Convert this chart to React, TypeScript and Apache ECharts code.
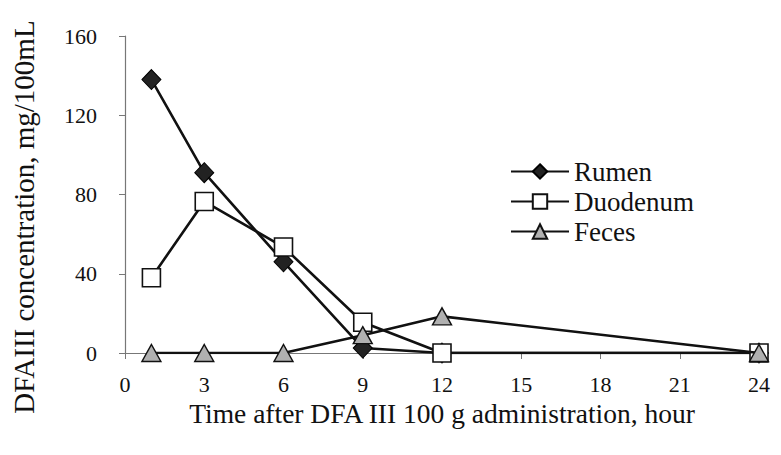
import React, { useEffect, useRef } from "react";
import * as echarts from "echarts";

const hours = [1, 3, 6, 9, 12, 24];
const rumen = [138, 91, 46, 2.5, 0, 0];
const duodenum = [38, 76.5, 53.5, 15.5, 0, 0];
const feces = [0, 0, 0, 9, 18.5, 0];
const xTicks = [0, 3, 6, 9, 12, 15, 18, 21, 24];
const yTitle = "DFAIII concentration, mg/100mL";
const xTitle = "Time after DFA III 100 g administration, hour";

const FONT = "Liberation Serif";

export default function App() {
  const ref = useRef<HTMLDivElement>(null);
  useEffect(() => {
    if (!ref.current) return;
    const chart = echarts.init(ref.current, null, { renderer: "svg" });
    const mk = (arr: number[]) => hours.map((h, i) => [h, arr[i]]);
    const lineStyle = { color: "#111", width: 2.6 };
    chart.setOption({
      animation: false,
      backgroundColor: "#fff",
      textStyle: { fontFamily: FONT },
      grid: { left: 125, right: 22, top: 36, bottom: 102 },
      graphic: [
        {
          type: "text",
          x: 24,
          y: 217,
          rotation: Math.PI / 2,
          style: {
            text: yTitle,
            fontFamily: FONT,
            fontSize: 29,
            fill: "#111",
            textAlign: "center",
            textVerticalAlign: "middle",
          },
        },
      ],
      legend: {
        left: 505,
        top: 153,
        orient: "vertical",
        itemGap: 3,
        itemWidth: 58,
        itemHeight: 18,
        textStyle: { fontFamily: FONT, fontSize: 27, color: "#111" },
        data: ["Rumen", "Duodenum", "Feces"],
      },
      xAxis: {
        type: "value",
        min: 0,
        max: 24,
        interval: 3,
        name: xTitle,
        nameLocation: "middle",
        nameGap: 42,
        nameTextStyle: { fontFamily: FONT, fontSize: 27.5, color: "#111" },
        axisLine: { show: true, lineStyle: { color: "#777", width: 1.2 } },
        axisTick: { show: true, inside: false, length: 6, lineStyle: { color: "#777" } },
        axisLabel: {
          fontFamily: FONT,
          fontSize: 22,
          color: "#111",
          margin: 20,
          formatter: (v: number) => (xTicks.includes(v) ? String(v) : ""),
        },
        splitLine: { show: false },
      },
      yAxis: {
        type: "value",
        min: 0,
        max: 160,
        interval: 40,
        axisLine: { show: true, lineStyle: { color: "#777", width: 1.2 } },
        axisTick: { show: true, length: 6, lineStyle: { color: "#777" } },
        axisLabel: { fontFamily: FONT, fontSize: 22, color: "#111", margin: 28 },
        splitLine: { show: false },
      },
      series: [
        {
          name: "Rumen",
          type: "line",
          data: mk(rumen),
          symbol: "diamond",
          symbolSize: [19, 20],
          lineStyle,
          itemStyle: { color: "#222", borderColor: "#000", borderWidth: 1 },
          z: 3,
        },
        {
          name: "Duodenum",
          type: "line",
          data: mk(duodenum),
          symbol: "rect",
          symbolSize: 18,
          lineStyle,
          itemStyle: { color: "#fff", borderColor: "#111", borderWidth: 1.6 },
          z: 4,
        },
        {
          name: "Feces",
          type: "line",
          data: mk(feces),
          symbol: "triangle",
          symbolSize: [19, 17],
          lineStyle,
          itemStyle: { color: "#b0b0b0", borderColor: "#111", borderWidth: 1.4 },
          z: 5,
        },
      ],
    });
    return () => chart.dispose();
  }, []);
  return <div ref={ref} style={{ width: 781, height: 455, position: "absolute", left: 0, top: 0 }} />;
}
